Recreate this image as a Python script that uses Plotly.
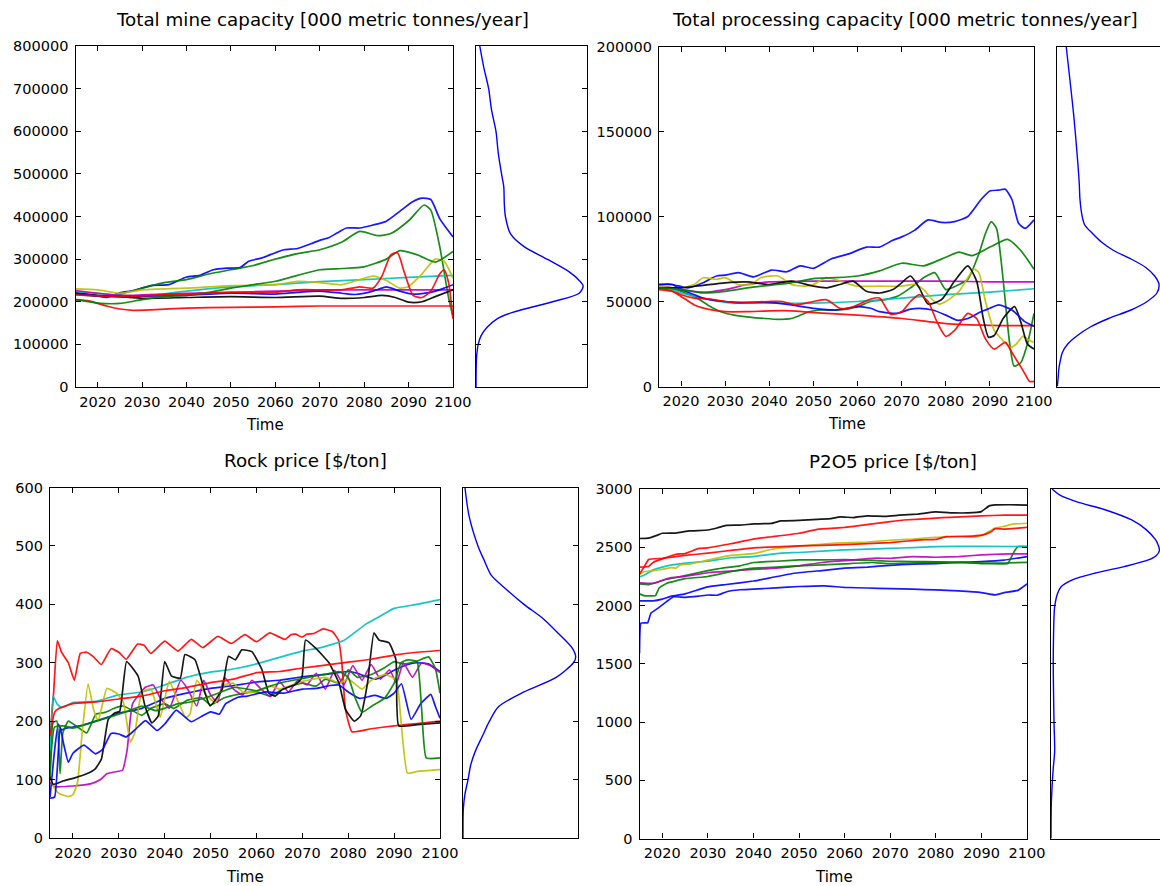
import plotly.graph_objects as go

# ---------------- data: Total mine capacity [000 metric tonnes/year] ----------------
mine_b1_t = [2015,2020,2022,2025,2028,2032,2036,2040,2043,2046,2049,2052,2054,2057,2060,2062,2065,2068,2070,2072,2074,2076,2079,2082,2085,2088,2091,2093,2095,2097,2100]
mine_b1 = [222000,214000,210000,221000,226000,238000,240000,258000,262000,275000,279000,280000,295000,303000,315000,322000,325000,336000,344000,350000,362000,373000,373000,380000,389000,412000,435000,443000,440000,395000,352000]
mine_g1_t = [2015,2020,2025,2030,2035,2040,2045,2050,2055,2060,2065,2070,2075,2079,2083,2086,2090,2093.5,2095,2097,2099,2100]
mine_g1 = [218000,213000,218000,232000,245000,252000,265000,275000,285000,300000,313000,322000,340000,365000,355000,360000,390000,427000,415000,330000,210000,165000]
mine_r1_t = [2015,2018,2022,2025,2028,2032,2040,2050,2060,2070,2080,2090,2100]
mine_r1 = [205000,202000,190000,183000,180000,181000,185000,187000,188000,190000,190000,190000,190000]
mine_c_t = [2015,2020,2025,2030,2040,2050,2060,2070,2080,2090,2100]
mine_c = [222000,220000,215000,213000,225000,235000,240000,247000,252000,257000,262000]
mine_m_t = [2015,2020,2025,2030,2040,2050,2060,2070,2080,2090,2100]
mine_m = [226000,220000,215000,216000,220000,222000,225000,227000,228000,228000,228000]
mine_y_t = [2015,2020,2025,2030,2040,2050,2060,2065,2070,2075,2079,2082,2085,2088,2090,2093,2096,2098,2100]
mine_y = [230000,228000,220000,228000,232000,238000,240000,248000,245000,240000,252000,260000,250000,232000,236000,265000,300000,295000,255000]
mine_k_t = [2015,2020,2025,2030,2040,2050,2060,2070,2075,2080,2084,2087,2090,2093,2096,2100]
mine_k = [220000,215000,212000,208000,210000,212000,210000,213000,208000,210000,215000,210000,199000,200000,212000,228000]
mine_b2_t = [2015,2020,2025,2030,2040,2050,2060,2065,2070,2075,2078,2082,2085,2088,2091,2095,2098,2100]
mine_b2 = [220000,213000,212000,213000,215000,220000,218000,222000,225000,220000,217000,225000,235000,225000,218000,222000,232000,240000]
mine_g2_t = [2015,2020,2025,2030,2035,2040,2045,2050,2055,2060,2065,2070,2075,2080,2085,2088,2092,2096,2100]
mine_g2 = [205000,197000,196000,205000,212000,215000,222000,232000,240000,248000,262000,275000,278000,282000,300000,320000,310000,293000,318000]
mine_r2_t = [2015,2020,2025,2030,2040,2050,2060,2065,2070,2075,2079,2082,2084,2086,2087.5,2089,2091,2093,2095,2097,2098,2099,2100]
mine_r2 = [216000,214000,213000,214000,218000,222000,222000,228000,228000,228000,235000,232000,260000,310000,315000,270000,215000,210000,225000,265000,275000,245000,160000]
mine_kde_v = [0,70000,100000,120000,140000,160000,175000,200000,220000,237000,250000,270000,300000,330000,360000,400000,430000,470000,500000,550000,600000,650000,700000,750000,800000]
mine_kde_d = [0,0.005,0.02,0.045,0.10,0.19,0.33,0.69,0.93,0.965,0.93,0.84,0.64,0.43,0.31,0.265,0.255,0.25,0.23,0.20,0.18,0.14,0.114,0.07,0.034]

# ---------------- data: Total processing capacity ----------------
proc_b1_t = [2015,2018,2021.5,2025,2028,2030,2033,2036.5,2040.5,2044,2047,2050,2054,2058,2062,2065,2068,2070,2073,2076,2079,2082,2085,2088,2090,2092,2093.5,2095,2096.5,2098,2100]
proc_b1 = [60000,60000,58000,61000,65000,65500,67000,64500,68500,67500,71000,69500,75000,78000,82000,82000,86000,88000,92000,98000,96500,97000,100000,110000,115000,115500,116000,110000,96000,93000,98000]
proc_g1_t = [2015,2018,2020,2023,2026,2029,2032,2035,2039,2042,2045,2049,2052,2056,2060,2063,2066,2069,2072,2075,2077.5,2080,2083,2085,2087.5,2089,2090.3,2091.5,2092.5,2093.5,2094.5,2095.5,2097,2098.5,2100]
proc_g1 = [58000,58000,56000,53000,48000,44000,42000,41000,40000,39500,40000,44000,45000,45000,47000,50000,51000,53000,58000,64000,67000,57000,60000,63000,78000,90000,97000,93000,75000,50000,25000,12000,14000,25000,43000]
proc_r1_t = [2015,2018,2020,2023,2026,2030,2035,2040,2045,2050,2060,2070,2080,2090,2100]
proc_r1 = [58000,56000,53000,48000,45500,44000,44000,44500,44500,43500,42000,40000,37000,36000,35800]
proc_c_t = [2015,2018,2020,2025,2030,2040,2050,2060,2070,2080,2090,2100]
proc_c = [59000,57000,55000,52000,49500,49000,49000,50000,52000,54000,55500,57500]
proc_m_t = [2015,2018,2020,2025,2030,2035,2040,2050,2060,2070,2080,2090,2100]
proc_m = [59000,58000,57000,55500,57000,60000,61500,62000,62000,62000,62000,61500,61500]
proc_y_t = [2015,2018,2020,2023,2025,2028,2030,2033,2036,2038,2042,2045,2048,2050,2053,2056,2060,2065,2070,2073,2075,2077,2078.5,2080,2083,2085,2086.4,2087.5,2089,2091,2093,2094.7,2096,2097.5,2099,2100]
proc_y = [59000,58000,58000,60000,64000,63000,64000,60000,60000,64000,65000,60000,59000,60000,64000,62000,59000,59000,59000,60000,57000,51000,48500,50000,56000,64000,69000,67000,50000,33000,27000,23000,25000,29500,27000,26000]
proc_k_t = [2015,2018,2020,2025,2030,2035,2040,2045,2050,2053,2056,2059,2062,2065,2068,2070,2072,2074,2076,2079,2082,2085,2087,2088.5,2089.7,2091,2093,2095.6,2097,2098.5,2100]
proc_k = [58000,58000,58000,59500,61000,61500,60000,62000,59000,58000,60000,62000,56000,55000,57000,61000,65000,58000,48500,51000,62000,71000,62000,40000,29000,30000,40000,47000,38000,25000,22000]
proc_b2_t = [2015,2018,2020,2023,2025,2030,2035,2040,2045,2050,2055,2060,2063,2065,2069,2072,2074,2077,2080,2082.5,2085,2088,2090,2092,2095,2098,2100]
proc_b2 = [60000,60000,57000,54000,52000,50000,49500,49500,48000,46000,45000,47000,46000,44000,43000,45500,46000,45000,42000,39000,40000,44000,46000,48000,45000,38000,35500]
proc_g2_t = [2015,2020,2025,2030,2035,2040,2045,2050,2055,2060,2065,2070,2075,2080,2083,2086,2090,2094,2097,2100]
proc_g2 = [58000,57000,55000,56000,58000,59500,61000,63500,64000,65000,68000,72500,71000,76000,79000,77000,82000,86500,80000,69000]
proc_r2_t = [2015,2018,2020,2023,2026,2030,2033,2036,2040,2043,2046,2050,2053,2056,2058,2060,2063,2065,2067.5,2070,2072,2074,2076,2078,2080,2082,2085,2087,2089,2091,2093.5,2095,2097.5,2099,2100]
proc_r2 = [57000,56000,54000,52000,51500,50000,49000,49500,50000,50000,48000,50000,51000,46000,46000,48000,51500,52000,42500,44000,50000,54000,50000,38000,29500,33000,43000,40000,28000,22000,26000,20000,9500,3000,3000]
proc_kde_v = [0,5000,10000,15000,20000,25000,30000,35000,40000,45000,50000,55000,60000,65000,70000,75000,80000,85000,90000,95000,100000,110000,120000,140000,160000,180000,200000]
proc_kde_d = [0.003,0.01,0.016,0.029,0.048,0.097,0.184,0.30,0.464,0.667,0.812,0.90,0.919,0.88,0.80,0.667,0.51,0.40,0.32,0.25,0.227,0.207,0.20,0.177,0.15,0.117,0.083]

# ---------------- data: Rock price [$/ton] ----------------
rock_b1_t = [2015,2016,2016.8,2017.5,2018.5,2020,2022,2025,2028,2030,2033,2035,2038,2040,2043,2046,2050,2055,2060,2065,2070,2075,2080,2082,2084,2086,2088,2090,2093,2095,2097.5,2100]
rock_b1 = [70,150,195,185,188,190,193,200,208,214,218,222,232,239,245,250,256,261,267,270,276,280,285,282,276,272,278,287,297,300,298,285]
rock_g1_t = [2015,2015.7,2016.5,2017.2,2017.8,2019,2021,2023,2025,2027,2029,2031,2033,2035,2037,2040,2042,2045,2048,2050,2053,2056,2060,2063,2066,2070,2073,2075,2078,2080,2082,2085,2088,2090,2092,2095,2097.5,2099,2100]
rock_g1 = [100,198,200,110,180,200,190,180,212,215,222,226,218,210,222,230,222,236,240,228,240,246,250,243,256,265,260,272,265,288,275,280,292,302,298,303,310,290,248]
rock_r1_t = [2015,2015.8,2016.6,2017.5,2019,2020.3,2021.6,2023,2024.5,2026.2,2028.3,2030,2031.6,2034.1,2035.5,2037,2040,2042.9,2045.8,2048.3,2051.6,2054.5,2057.5,2060,2062.9,2066.2,2067.5,2068.5,2070,2071,2072.5,2074.5,2076.6,2077.9,2078.6,2079.4,2080.8,2085,2090,2095,2100]
rock_r1 = [170,250,338,318,300,270,316,318,310,297,324,318,306,332,330,316,337,320,340,326,345,333,348,336,351,340,348,349,344,349,350,358,353,338,300,220,182,187,192,196,200]
rock_c_t = [2015,2015.7,2016.5,2017.5,2020,2025,2030,2035,2040,2044.7,2050,2054,2060,2064,2070,2074,2079,2084,2087,2090,2095,2100]
rock_c = [150,243,230,223,232,234,245,250,262,275,284,288,298,307,320,326,338,367,380,393,400,408]
rock_m_t = [2015,2016,2020,2024,2026,2027.4,2029,2030.8,2031.8,2033,2035.8,2037.5,2039,2041,2043.5,2045,2047,2048.5,2050,2051.5,2053,2055,2057,2059,2061,2063,2065,2067,2069,2071,2073,2075,2077,2079,2081,2083,2085,2087,2089,2090.5,2092,2094,2096,2098,2100]
rock_m = [95,88,89,93,100,110,113,116,150,230,258,262,240,222,270,255,226,270,245,232,275,255,245,270,255,242,268,250,270,262,282,255,287,262,295,270,297,272,288,265,300,275,300,295,283]
rock_y_t = [2015,2016,2017,2019,2020,2021,2022,2023.3,2024.5,2025.5,2027.4,2029.5,2031,2032.5,2033.5,2035,2037,2039,2041,2043,2044.6,2045.5,2047,2049,2051,2053,2055,2057,2060,2063,2065,2070,2075,2078,2080,2083,2085,2088,2090.5,2091.5,2092.9,2095,2100]
rock_y = [105,85,76,71,74,95,180,264,220,200,256,248,232,164,180,250,255,207,268,232,206,212,270,245,232,262,265,250,250,260,255,268,275,265,272,255,270,280,270,200,111,114,117]
rock_k_t = [2015,2015.7,2018,2020.4,2023,2024.8,2026.2,2027.7,2029.1,2030.2,2031.7,2034.2,2035.7,2037.2,2038.6,2040,2041.5,2043.4,2044.4,2046.6,2048.8,2049.9,2052.5,2053.9,2055.4,2056.8,2059,2061.2,2062.7,2064.1,2065.6,2068.5,2069.9,2070.7,2072.9,2075.8,2078,2079.4,2081.3,2082.7,2084.2,2085.6,2086.7,2088.9,2090.4,2091,2095,2100]
rock_k = [105,92,98,103,110,118,135,203,214,217,302,277,226,197,209,302,277,274,314,305,248,226,254,311,305,322,319,288,248,243,254,263,274,339,325,300,265,220,200,209,265,351,339,334,305,192,194,197]
rock_b2_t = [2015,2016,2016.6,2017.2,2018,2019,2020,2022.4,2024.9,2026.5,2028.3,2030,2031.6,2033.5,2035.8,2038.3,2040,2042.5,2044,2045.8,2048,2050,2051.9,2053.3,2056,2058,2062,2066,2070,2073,2076,2078,2080,2082.5,2085.8,2088.3,2090,2091.6,2093.7,2095.8,2098,2099,2100]
rock_b2 = [68,70,120,190,160,130,145,159,144,152,179,178,173,185,201,184,195,219,210,199,208,216,212,230,241,243,250,248,255,256,261,262,250,239,244,239,248,264,203,230,246,225,205]
rock_g2_t = [2015,2016,2018,2020,2023,2025,2028,2030,2033,2035,2038,2040,2043,2045,2048,2050,2053,2055,2058,2060,2063,2065,2068,2070,2073,2075,2078,2080,2081.5,2083,2085,2088,2090,2091.5,2093,2095,2096,2097,2100]
rock_g2 = [110,190,192,188,195,200,207,212,220,226,218,222,230,232,238,243,252,258,255,252,260,265,270,273,278,280,285,275,240,215,225,240,265,300,305,302,220,137,137]
rock_r2_t = [2015,2016,2017,2020,2025,2030,2035,2040,2045,2050,2055,2060,2065,2070,2075,2080,2085,2090,2095,2100]
rock_r2 = [175,215,222,230,233,238,243,252,258,266,272,283,285,291,296,301,306,313,318,321]
rock_kde_v = [0,50,75,100,125,150,175,200,225,250,275,300,310,325,350,375,400,425,450,475,500,550,600]
rock_kde_d = [0,0.003,0.017,0.044,0.067,0.11,0.17,0.23,0.31,0.53,0.81,0.96,0.98,0.95,0.83,0.70,0.53,0.38,0.245,0.185,0.13,0.054,0.017]

# ---------------- data: P2O5 price [$/ton] ----------------
p_b1_t = [2015,2018,2020,2022,2025,2030,2034,2040,2044,2049,2055,2060,2065,2070,2075,2080,2085,2090,2095,2100]
p_b1 = [2040,2040,2055,2080,2100,2160,2180,2210,2240,2277,2300,2320,2330,2345,2355,2360,2370,2377,2390,2420]
p_g1_t = [2015,2017,2018.5,2021,2023,2026,2030,2033,2037,2040,2045,2050,2055,2060,2066,2070,2075,2080,2086,2090,2094,2095.8,2097,2098,2100]
p_g1 = [2185,2180,2195,2225,2240,2265,2300,2320,2340,2369,2380,2391,2392,2393,2387,2380,2377,2375,2370,2360,2357,2360,2450,2506,2506]
p_r1_t = [2015,2017,2018,2020,2023,2025,2028,2030,2035,2040,2044,2050,2054,2060,2064,2070,2073,2080,2083,2090,2095,2100]
p_r1 = [2330,2335,2370,2400,2440,2445,2490,2495,2530,2570,2590,2620,2654,2670,2690,2720,2734,2750,2757,2770,2775,2775]
p_c_t = [2015,2016,2018,2020,2025,2030,2035,2040,2046,2050,2060,2070,2075,2080,2090,2100]
p_c = [2245,2260,2306,2330,2363,2380,2410,2420,2450,2455,2477,2490,2497,2505,2508,2506]
p_m_t = [2015,2018,2021.3,2025,2030.3,2035,2040,2045,2050,2055,2060,2066.9,2070,2075,2080,2085,2090,2093,2096,2100]
p_m = [2195,2190,2234,2250,2283,2295,2310,2320,2340,2369,2385,2406,2405,2420,2414,2420,2434,2440,2443,2443]
p_y_t = [2015,2016,2018,2020,2022,2023,2024,2026,2030,2035,2040,2044,2050,2058,2065,2070,2075,2080,2085,2088,2090,2092.9,2095,2097,2100]
p_y = [2265,2290,2300,2310,2325,2320,2350,2355,2390,2430,2445,2483,2510,2535,2545,2560,2570,2586,2590,2586,2600,2663,2680,2700,2706]
p_k_t = [2015,2017,2019,2020,2023,2026,2030,2032,2034,2037,2040,2044,2046,2050,2054,2057,2059,2062,2065,2069,2072,2076,2080,2084,2087,2090,2091.7,2093,2096,2100]
p_k = [2575,2578,2605,2620,2622,2640,2648,2665,2688,2690,2700,2705,2726,2730,2740,2745,2760,2755,2770,2765,2775,2785,2803,2795,2795,2806,2855,2863,2865,2862]
p_b2_t = [2015,2015.3,2016.8,2017.5,2019,2021,2022.5,2025,2028,2030,2032,2034.3,2037,2040,2045,2050,2055.5,2060,2065,2070,2075,2080,2085,2090,2092.9,2095,2098,2100]
p_b2 = [1590,1849,1852,1934,1975,2035,2075,2070,2080,2090,2088,2120,2135,2140,2152,2163,2169,2155,2150,2145,2140,2134,2125,2111,2091,2110,2130,2186]
p_g2_t = [2015,2016,2017.5,2018.5,2019.3,2021,2025,2030,2035,2040,2045,2050,2055,2060,2066,2070,2080,2086,2090,2095,2100]
p_g2 = [2100,2085,2083,2085,2150,2191,2230,2249,2290,2320,2330,2340,2349,2358,2369,2360,2372,2368,2363,2365,2371]
p_r2_t = [2015,2016,2017,2020,2025,2030,2036,2040,2050,2060,2070,2076.6,2080,2082.3,2088,2090.4,2092,2093,2095,2100]
p_r2 = [2270,2330,2395,2405,2430,2450,2477,2495,2511,2522,2540,2563,2568,2591,2596,2606,2630,2660,2655,2671]
p_kde_v = [0,300,500,600,750,1000,1250,1500,1750,1900,1991,2106,2163,2220,2277,2334,2391,2430,2474,2520,2563,2649,2734,2820,2891,2949,2991,3000]
p_kde_d = [0,0.003,0.013,0.02,0.033,0.027,0.023,0.02,0.023,0.027,0.033,0.06,0.093,0.193,0.393,0.66,0.877,0.95,0.977,0.965,0.943,0.86,0.727,0.493,0.227,0.077,0.02,0.01]

years_ticks = [2020, 2030, 2040, 2050, 2060, 2070, 2080, 2090, 2100]
titles = ["Total mine capacity [000 metric tonnes/year]",
          "Total processing capacity [000 metric tonnes/year]",
          "Rock price [$/ton]", "P2O5 price [$/ton]"]

# matplotlib classic colour cycle
CB, CG, CR, CC, CM, CY, CK = "#0000ff", "#008000", "#ff0000", "#00bfbf", "#bf00bf", "#bfbf00", "#000000"

W, H = 1160, 886
def fx(p): return p / W
def fy(p): return 1 - p / H

FONT = "DejaVu Sans"
fig = go.Figure()

panels = [
    dict(main=(75.5, 453), side=(476, 587), yy=(46, 387), ymax=800000, dtick=100000, side_cut=False,
         series=[(mine_b1_t, mine_b1, CB), (mine_g1_t, mine_g1, CG), (mine_r1_t, mine_r1, CR),
                 (mine_c_t, mine_c, CC), (mine_m_t, mine_m, CM), (mine_y_t, mine_y, CY),
                 (mine_k_t, mine_k, CK), (mine_b2_t, mine_b2, CB), (mine_g2_t, mine_g2, CG),
                 (mine_r2_t, mine_r2, CR)],
         kde=(mine_kde_d, mine_kde_v), smooth=0.6),
    dict(main=(659, 1034), side=(1057, 1168), yy=(46.5, 386.5), ymax=200000, dtick=50000, side_cut=True,
         series=[(proc_b1_t, proc_b1, CB), (proc_g1_t, proc_g1, CG), (proc_r1_t, proc_r1, CR),
                 (proc_c_t, proc_c, CC), (proc_m_t, proc_m, CM), (proc_y_t, proc_y, CY),
                 (proc_k_t, proc_k, CK), (proc_b2_t, proc_b2, CB), (proc_g2_t, proc_g2, CG),
                 (proc_r2_t, proc_r2, CR)],
         kde=(proc_kde_d, proc_kde_v), smooth=0.6),
    dict(main=(50, 440), side=(463, 578), yy=(487.5, 838), ymax=600, dtick=100, side_cut=False,
         series=[(rock_b1_t, rock_b1, CB), (rock_g1_t, rock_g1, CG), (rock_r1_t, rock_r1, CR),
                 (rock_c_t, rock_c, CC), (rock_m_t, rock_m, CM), (rock_y_t, rock_y, CY),
                 (rock_k_t, rock_k, CK), (rock_b2_t, rock_b2, CB), (rock_g2_t, rock_g2, CG),
                 (rock_r2_t, rock_r2, CR)],
         kde=(rock_kde_d, rock_kde_v), smooth=0.4),
    dict(main=(639.5, 1027), side=(1051, 1162), yy=(489, 838.5), ymax=3000, dtick=500, side_cut=True,
         series=[(p_b1_t, p_b1, CB), (p_g1_t, p_g1, CG), (p_r1_t, p_r1, CR),
                 (p_c_t, p_c, CC), (p_m_t, p_m, CM), (p_y_t, p_y, CY),
                 (p_k_t, p_k, CK), (p_b2_t, p_b2, CB), (p_g2_t, p_g2, CG),
                 (p_r2_t, p_r2, CR)],
         kde=(p_kde_d, p_kde_v), smooth=0.3),
]

title_pos = [(323, 20), (905, 20), (305, 460), (893, 461)]
time_pos = [(265, 425), (847, 424), (245, 877), (834, 877)]

axis_common = dict(showgrid=False, zeroline=False, showline=True, linecolor="black", linewidth=1.3,
                   tickcolor="black", tickwidth=1, ticklen=5, automargin=False)
layout = {}
annotations = []
for i, p in enumerate(panels):
    mi = 2 * i + 1
    si = 2 * i + 2
    mx = "x" if mi == 1 else f"x{mi}"
    my = "y" if mi == 1 else f"y{mi}"
    sx, sy = f"x{si}", f"y{si}"
    ydom = [fy(p["yy"][1]), fy(p["yy"][0])]
    # main axes
    layout["xaxis" if mi == 1 else f"xaxis{mi}"] = dict(
        axis_common, domain=[fx(p["main"][0]), fx(p["main"][1])], anchor=my,
        range=[2015, 2100], tickvals=years_ticks, ticks="inside", mirror="ticks",
        tickfont=dict(family=FONT, size=14.5, color="black"), ticklabelstandoff=1)
    layout["yaxis" if mi == 1 else f"yaxis{mi}"] = dict(
        axis_common, domain=ydom, anchor=mx, range=[0, p["ymax"]], dtick=p["dtick"], tick0=0,
        ticks="inside", mirror="ticks", tickformat="d",
        tickfont=dict(family=FONT, size=14.5, color="black"), ticklabelstandoff=3)
    # side (kde) axes
    s_left, s_right = p["side"]
    full = s_right - s_left
    vis_right = min(s_right, W)
    xr = (vis_right - s_left) / full
    layout[f"xaxis{si}"] = dict(
        axis_common, domain=[fx(s_left), fx(vis_right)], anchor=sy, range=[0, xr],
        showticklabels=False, ticks="", mirror=True)
    layout[f"yaxis{si}"] = dict(
        axis_common, domain=ydom, anchor=sx, range=[0, p["ymax"]], dtick=p["dtick"], tick0=0,
        ticks="inside", mirror=(False if p["side_cut"] else "ticks"), showticklabels=False)
    for (t, v, col) in p["series"]:
        fig.add_trace(go.Scatter(
            x=t, y=v, mode="lines", xaxis=mx, yaxis=my, showlegend=False, opacity=0.9,
            line=dict(color=col, width=1.7, shape="spline", smoothing=p["smooth"])))
    kd, kv = p["kde"]
    fig.add_trace(go.Scatter(x=kd, y=kv, mode="lines", xaxis=sx, yaxis=sy, showlegend=False,
                             line=dict(color=CB, width=1.4, shape="spline", smoothing=0.8)))
    annotations.append(dict(text=titles[i], x=fx(title_pos[i][0]), y=fy(title_pos[i][1]),
                            xref="paper", yref="paper", showarrow=False, xanchor="center",
                            yanchor="middle", font=dict(family=FONT, size=18.3, color="black")))
    annotations.append(dict(text="Time", x=fx(time_pos[i][0]), y=fy(time_pos[i][1]),
                            xref="paper", yref="paper", showarrow=False, xanchor="center",
                            yanchor="middle", font=dict(family=FONT, size=15, color="black")))

fig.update_layout(**layout)
fig.update_layout(width=W, height=H, margin=dict(l=0, r=0, t=0, b=0, autoexpand=False),
                  paper_bgcolor="white", plot_bgcolor="white", annotations=annotations,
                  font=dict(family=FONT, color="black"))
fig.write_html("out.html")
